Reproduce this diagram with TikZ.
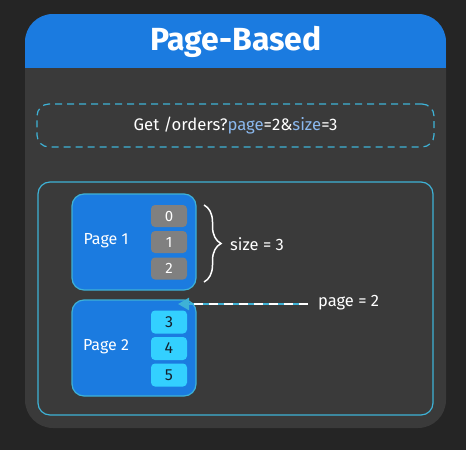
\documentclass[tikz,border=0pt]{standalone}
\usepackage{fontspec}
\setmainfont{Fira Sans}
\usetikzlibrary{arrows.meta,decorations.pathreplacing,calc}
\definecolor{bgc}{HTML}{252525}
\definecolor{cardc}{HTML}{3A3A3A}
\definecolor{bluec}{HTML}{1B7BE0}
\definecolor{cyanb}{HTML}{3EB2D6}
\definecolor{grayc}{HTML}{808080}
\definecolor{itemc}{HTML}{33D0FF}
\definecolor{paramc}{HTML}{8AB8EE}
\definecolor{darktxt}{HTML}{14202C}
\tikzset{
  pagebox/.style={draw=cyanb, line width=1.2pt, fill=bluec, rounded corners=12pt,
    minimum width=124pt, minimum height=96pt, inner sep=0pt},
  pagelabel/.style={text=white, font=\fontsize{16}{18}\selectfont, inner sep=0pt},
  itemgray/.style={fill=grayc, rounded corners=4pt, minimum width=36pt, minimum height=22pt,
    inner sep=0pt, text=white, font=\fontsize{15}{17}\selectfont},
  itemcyan/.style={fill=itemc, rounded corners=4pt, minimum width=36pt, minimum height=23pt,
    inner sep=0pt, text=darktxt, font=\fontsize{16}{18}\selectfont},
  sidelabel/.style={text=white, font=\fontsize{16.5}{18}\selectfont, inner sep=0pt, anchor=west},
}
\begin{document}
\begin{tikzpicture}[x=1pt,y=-1pt]
\useasboundingbox (0,0) rectangle (466,450);
\fill[bgc] (0,0) rectangle (466,450);
% card
\fill[cardc, rounded corners=28pt] (25,14) rectangle (446,428);
\begin{scope}
  \clip[rounded corners=28pt] (25,14) rectangle (446,428);
  \fill[bluec] (25,14) rectangle (446,68);
\end{scope}
\node[text=white, font=\fontsize{32}{37}\selectfont\bfseries, inner sep=0pt] (title) at (236,42) {Page-Based};
% query
\node[draw=cyanb, dashed, dash pattern=on 7pt off 5pt, line width=1.2pt, rounded corners=12pt,
  minimum width=397pt, minimum height=43pt, inner sep=0pt,
  text=white, font=\fontsize{16.7}{19}\selectfont] (query) at (235.5,125.5)
  {Get /orders?\textcolor{paramc}{page}=2\&\textcolor{paramc}{size}=3};
% container
\node[draw=cyanb, line width=1.2pt, rounded corners=12pt, minimum width=395pt,
  minimum height=233pt, inner sep=0pt] (cont) at (235.5,298.5) {};
% page 1
\node[pagebox] (p1) at (134,242) {};
\node[pagelabel] (p1l) at (106,241) {Page 1};
\node[itemgray] (i0) at (169,216) {0};
\node[itemgray] (i1) at (169,242) {1};
\node[itemgray] (i2) at (169,268.5) {2};
% page 2
\node[pagebox] (p2) at (134,348) {};
\node[pagelabel] (p2l) at (106,347) {Page 2};
\node[itemcyan] (i3) at (169,322) {3};
\node[itemcyan] (i4) at (169,348.5) {4};
\node[itemcyan] (i5) at (169,375) {5};
% brace
\coordinate (bt) at (204,205);
\coordinate (bb) at (204,282);
\draw[white, line width=1.5pt, decorate, decoration={brace, amplitude=17pt}] (bt) -- (bb);
\node[sidelabel] (sz) at (230,244) {size = 3};
% arrow
\node[sidelabel] (pg) at (318,303) {page = 2};
\coordinate (tip) at (178,304);
\coordinate (tail) at (308,304);
\draw[cyanb, line width=2.4pt, -{Triangle[length=11pt,width=12pt]}] (tail) -- (tip);
\draw[white, line width=2.4pt, dash pattern=on 9pt off 6pt] (tail) -- ($(tip)+(12,0)$);
\end{tikzpicture}
\end{document}
